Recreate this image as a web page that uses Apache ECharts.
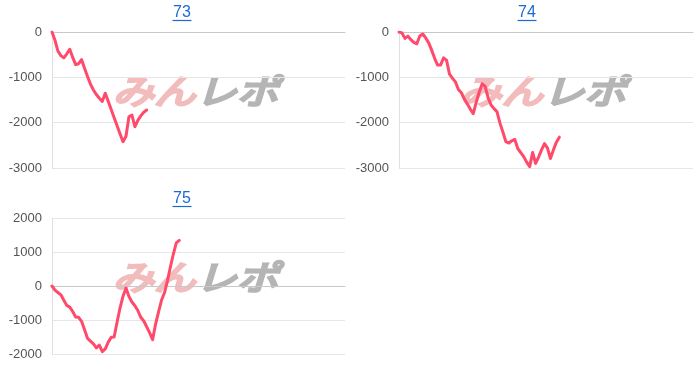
<!DOCTYPE html>
<html><head><meta charset="utf-8">
<script src="https://cdn.jsdelivr.net/npm/echarts@6/dist/echarts.min.js"></script>
<style>html,body{margin:0;padding:0;background:#fff}#c{width:700px;height:370px}</style>
</head><body><div id="c"></div>
<script>
const titles = ['73', '74', '75'];
const xSlots = 99; // last index on the shared x scale
const s73 = [0,-180,-420,-520,-570,-480,-380,-560,-720,-700,-610,-800,-980,-1150,-1280,-1380,-1460,-1530,-1350,-1530,-1710,-1890,-2070,-2250,-2420,-2300,-1870,-1830,-2090,-1950,-1850,-1770,-1720];
const s74 = [0,-20,-140,-90,-170,-230,-260,-90,-45,-130,-240,-400,-580,-730,-730,-570,-620,-930,-1020,-1100,-1270,-1340,-1480,-1590,-1700,-1800,-1550,-1330,-1140,-1200,-1450,-1610,-1690,-1760,-2010,-2210,-2420,-2450,-2400,-2370,-2570,-2660,-2750,-2870,-2970,-2660,-2900,-2760,-2600,-2460,-2560,-2790,-2600,-2430,-2320];
const s75 = [0,-120,-190,-260,-420,-570,-620,-750,-910,-920,-1040,-1290,-1540,-1620,-1700,-1820,-1740,-1930,-1850,-1650,-1510,-1500,-1060,-640,-300,-60,-310,-470,-580,-720,-920,-1030,-1200,-1380,-1580,-1120,-760,-420,-200,150,560,940,1270,1340];
const yTicks73 = [0, -1000, -2000, -3000];
const yTicks74 = [0, -1000, -2000, -3000];
const yTicks75 = [2000, 1000, 0, -1000, -2000];

const seriesData = [s73, s74, s75];
const tickSets = [yTicks73, yTicks74, yTicks75];
const grids = [
  {left: 52, top: 32, width: 293, height: 136},
  {left: 399, top: 32, width: 294, height: 136},
  {left: 52, top: 218, width: 293, height: 136}
];
const titleCenters = [[182, 13], [527, 13], [182, 199]];
const lineColor = '#ff4a6b';

const chart = echarts.init(document.getElementById('c'), null, {renderer: 'canvas'});
const option = {
  animation: false,
  backgroundColor: '#fff',
  grid: grids,
  xAxis: grids.map((g, i) => ({
    type: 'value', gridIndex: i, min: 0, max: xSlots,
    axisLine: {show: true, onZero: true, lineStyle: {color: '#c8c8c8', width: 1}},
    axisTick: {show: false}, axisLabel: {show: false}, splitLine: {show: false}
  })),
  yAxis: tickSets.map((t, i) => ({
    type: 'value', gridIndex: i,
    min: Math.min(...t), max: Math.max(...t), interval: 1000,
    axisLine: {show: true, lineStyle: {color: '#e0e0e0'}},
    axisTick: {show: false},
    axisLabel: {color: '#555', fontSize: 13, fontFamily: 'Liberation Sans, Arial, sans-serif', margin: 10, formatter: v => String(v)},
    splitLine: {show: true, lineStyle: {color: '#e6e6e6', width: 1}}
  })),
  series: seriesData.map((d, i) => ({
    type: 'line', xAxisIndex: i, yAxisIndex: i,
    data: d.map((v, k) => [k, v]),
    showSymbol: false, symbol: 'none',
    lineStyle: {color: lineColor, width: 3, join: 'round', cap: 'round'},
    z: 3
  })),
  graphic: []
};
titles.forEach((t, i) => {
  const [cx, cy] = titleCenters[i];
  option.graphic.push({
    type: 'text', x: cx, y: cy, z: 10,
    style: {text: t, fill: '#1a6ad2', font: '16px "Liberation Sans", Arial, sans-serif', textAlign: 'center', textVerticalAlign: 'middle'}
  });
  option.graphic.push({
    type: 'line', z: 10,
    shape: {x1: cx - 9.5, y1: cy + 7.5, x2: cx + 9.5, y2: cy + 7.5},
    style: {stroke: '#1a6ad2', lineWidth: 1.2}
  });
  const g = grids[i];
  const wx = g.left + g.width / 2 - 3, wy = g.top + g.height / 2 - 9;
  option.graphic.push({
    type: 'group', x: wx, y: wy, scaleX: 1.22, z: 1,
    children: [
      {type: 'text', x: 0, y: 0, style: {text: 'みん', fill: '#f2bcbc', stroke: '#f2bcbc', lineWidth: 2.6, font: 'italic 34px "Noto Sans CJK JP", sans-serif', textAlign: 'right', textVerticalAlign: 'middle'}},
      {type: 'text', x: 0, y: 0, style: {text: 'レポ', fill: '#b5b5b5', stroke: '#b5b5b5', lineWidth: 2.6, font: 'italic 34px "Noto Sans CJK JP", sans-serif', textAlign: 'left', textVerticalAlign: 'middle'}}
    ]
  });
});
chart.setOption(option);
</script>
</body></html>
